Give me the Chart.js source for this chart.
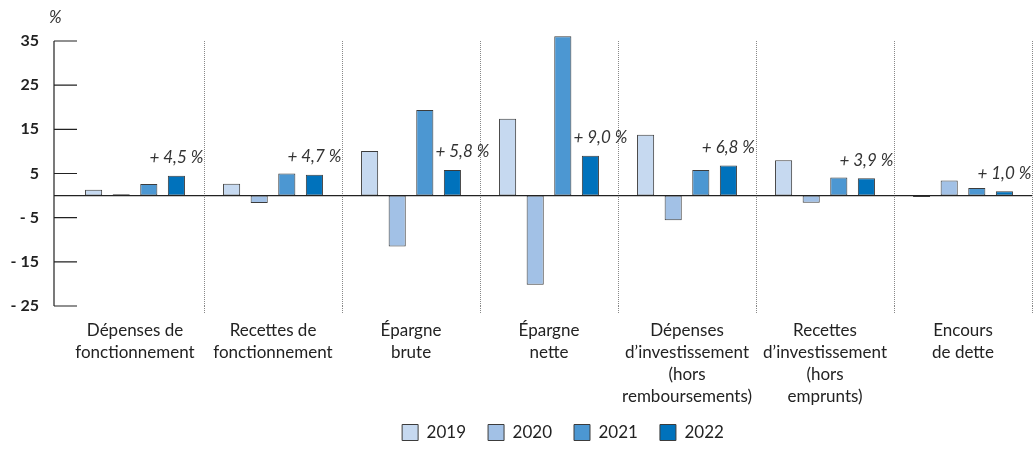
<!DOCTYPE html>
<html>
<head>
<meta charset="utf-8">
<script src="https://cdn.jsdelivr.net/npm/chart.js@4"></script>
<style>
    body { margin: 0; background: #fff; }
    #wrap { width: 1035px; height: 455px; }
</style>
</head>
<body>
<div id="wrap"><canvas id="myChart" width="1035" height="455"></canvas></div>
<script>
const categories = [
    ["Dépenses de", "fonctionnement"],
    ["Recettes de", "fonctionnement"],
    ["Épargne", "brute"],
    ["Épargne", "nette"],
    ["Dépenses", "d’investissement", "(hors", "remboursements)"],
    ["Recettes", "d’investissement", "(hors", "emprunts)"],
    ["Encours", "de dette"]
]
const years = ["2019", "2020", "2021", "2022"]

const values2019 = [1.3, 2.7, 10.1, 17.4, 13.8, 8.0, -0.3]
const values2020 = [0.3, -1.7, -11.5, -20.2, -5.6, -1.6, 3.4]
const values2021 = [2.6, 5.0, 19.4, 36.1, 5.8, 4.1, 1.7]
const values2022 = [4.5, 4.7, 5.8, 9.0, 6.8, 3.9, 1.0]

const growthLabels = ["+ 4,5 %", "+ 4,7 %", "+ 5,8 %", "+ 9,0 %", "+ 6,8 %", "+ 3,9 %", "+ 1,0 %"]
const yTicks = [-25, -15, -5, 5, 15, 25, 35]

const colorHex = ['#c6d9f0', '#a2c1e6', '#4c97d2', '#0072bc']
const FONT = "Lato, 'Open Sans', sans-serif"

// y axis line, its short ticks, the zero line and the growth labels
const extrasPlugin = {
    id: 'extras',
    afterLayout(chart) {
        // legend sits a bit right of the canvas centre in the original
        chart.legend.left += 47
        chart.legend.right += 47
        // the 4-line labels run past the x scale box, don't clip them
        chart.scales.x.bottom = chart.height
    },
    afterDatasetsDraw(chart) {
        const ctx = chart.ctx
        const y = chart.scales.y
        const area = chart.chartArea
        const axisX = area.left - 12

        ctx.save()
        ctx.strokeStyle = '#222'
        ctx.lineWidth = 1.2
        ctx.beginPath()
        ctx.moveTo(axisX, y.getPixelForValue(35))
        ctx.lineTo(axisX, y.getPixelForValue(-25))
        yTicks.forEach(t => {
            const py = y.getPixelForValue(t)
            ctx.moveTo(axisX, py)
            ctx.lineTo(axisX + 23, py)
        })
        const zero = y.getPixelForValue(0)
        ctx.moveTo(axisX, zero)
        ctx.lineTo(area.right, zero)
        ctx.stroke()

        // "%" unit
        ctx.fillStyle = '#333'
        ctx.font = "italic 17px " + FONT
        ctx.textAlign = 'left'
        ctx.textBaseline = 'middle'
        ctx.fillText('%', axisX - 5, 18)

        // growth labels above the 2022 bars
        const meta = chart.getDatasetMeta(3)
        ctx.textAlign = 'center'
        meta.data.forEach((bar, i) => {
            let shift = 0
            // move right when the 2021 bar would touch the text
            const bar2021 = chart.getDatasetMeta(2).data[i]
            if (bar2021.y < bar.y - 20) shift = 10
            ctx.fillText(growthLabels[i], bar.x + shift, bar.y - 18)
        })
        ctx.restore()
    }
}

const ctx = document.getElementById('myChart').getContext('2d')

const datasets = [values2019, values2020, values2021, values2022].map((vals, i) => ({
    label: years[i],
    data: vals,
    backgroundColor: colorHex[i],
    borderColor: '#3c3c3c',
    borderWidth: 1,
    borderSkipped: false,
    categoryPercentage: 0.8,
    barPercentage: 0.62,
    clip: 10
}))

const myChart = new Chart(ctx, {
    type: 'bar',
    data: {
        labels: categories,
        datasets: datasets
    },
    options: {
        responsive: false,
        animation: false,
        layout: {
            padding: { top: 41, right: 3, left: 0, bottom: 4 }
        },
        scales: {
            x: {
                grid: {
                    offset: true,
                    drawOnChartArea: true,
                    drawTicks: true,
                    tickLength: 8,
                    color: ctx => (ctx.index === 0 || ctx.index === 7 ? 'rgba(0,0,0,0)' : '#888'),
                    lineWidth: 1,
                    tickBorderDash: [1, 1]
                },
                border: { display: false, dash: [1, 1] },
                ticks: {
                    font: { family: FONT, size: 17, lineHeight: 1.28 },
                    color: '#222',
                    padding: 6,
                    maxRotation: 0,
                    autoSkip: false
                },
                afterFit(scale) { scale.height = 96 }
            },
            y: {
                min: -25,
                max: 35,
                afterBuildTicks(scale) {
                    scale.ticks = yTicks.map(v => ({ value: v }))
                },
                afterFit(scale) { scale.width = 66 },
                grid: { display: false, drawTicks: false, tickLength: 0 },
                border: { display: false },
                ticks: {
                    font: { family: FONT, size: 16, weight: 'bold' },
                    color: '#222',
                    padding: 27,
                    callback: v => (v < 0 ? '- ' + Math.abs(v) : String(v))
                }
            }
        },
        plugins: {
            legend: {
                position: 'bottom',
                labels: {
                    font: { family: FONT, size: 17 },
                    color: '#222',
                    boxWidth: 16,
                    boxHeight: 16,
                    padding: 22
                }
            },
            tooltip: { enabled: false }
        }
    },
    plugins: [extrasPlugin]
})
</script>
</body>
</html>
